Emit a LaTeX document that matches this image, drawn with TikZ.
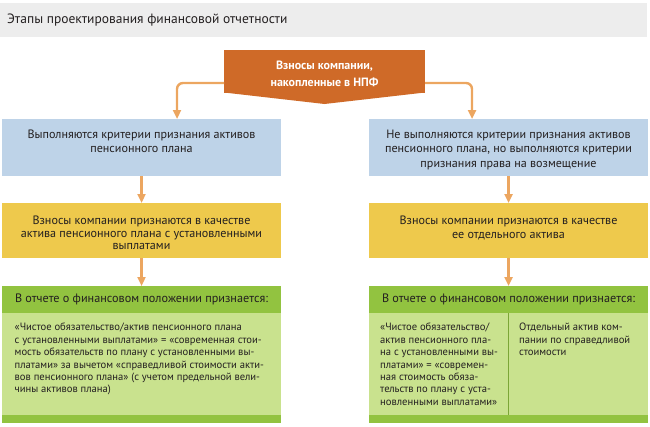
\documentclass[tikz,border=0pt]{standalone}
\usepackage{fontspec}
\setmainfont{PT Sans}
\usetikzlibrary{positioning,arrows.meta,calc}
\definecolor{bandgrey}{RGB}{237,237,237}
\definecolor{fundorange}{RGB}{207,106,40}
\definecolor{linkorange}{RGB}{236,166,96}
\definecolor{critblue}{RGB}{190,211,232}
\definecolor{assetyellow}{RGB}{238,201,76}
\definecolor{headgreen}{RGB}{146,195,64}
\definecolor{bodygreen}{RGB}{201,226,142}
\definecolor{darktext}{RGB}{35,31,32}

\begin{document}
\begin{tikzpicture}[x=1pt,y=-1pt]
		\tikzstyle{box} = [inner sep=0, outer sep=0, minimum width=279, text=darktext]
		\tikzstyle{critbox} = [box, fill=critblue, minimum height=57]
		\tikzstyle{assetbox} = [box, fill=assetyellow, minimum height=55]
		\tikzstyle{headbox} = [box, fill=headgreen, minimum height=27, font=\fontsize{12.2}{14}\selectfont]
		\tikzstyle{bodybox} = [box, fill=bodygreen, minimum height=102]
		\tikzstyle{footbox} = [box, fill=headgreen, minimum height=8]
		\tikzstyle{txt} = [inner sep=0, align=center, text=darktext, font=\fontsize{12.1}{14.5}\selectfont]
		\tikzstyle{bodytxt} = [inner sep=0, align=left, text=darktext, font=\fontsize{10.6}{12.4}\selectfont, anchor=north west]
		\tikzstyle{link} = [-{Triangle[width=8pt,length=9pt]}, line width=2.4pt, draw=linkorange, rounded corners=6pt]
		\useasboundingbox (0,0) rectangle (650,426);
		\fill[bandgrey] (0,3) rectangle (647,37);
		\node [anchor=west, inner sep=0, text=darktext, font=\fontsize{13.5}{15}\selectfont] (title) at (7,20) {Этапы проектирования финансовой отчетности};
		
		\node [fill=fundorange, inner sep=0, outer sep=0, minimum width=201, minimum height=43] (fund) at (324.5,71.5) {};
		\fill [fundorange] ([yshift=0.5pt]fund.south west) -- ([yshift=0.5pt]fund.south east) -- ($(fund.south)+(0,11)$) -- cycle;
		\node [inner sep=0, text=white, align=center, font=\bfseries\fontsize{12}{17.5}\selectfont] (fundt) at ($(fund)+(0,2.5)$) {Взносы компании,\\накопленные в НПФ};
		
		\node [critbox] (crit1) at (141.5,147.5) {};
		\node [critbox] (crit2) at (508.5,147.5) {};
		\node [assetbox] (asset1) at (141.5,230.5) {};
		\node [assetbox] (asset2) at (508.5,230.5) {};
		\node [headbox] (head1) at (141.5,299.5) {В отчете о финансовом положении признается:};
		\node [headbox] (head2) at (508.5,299.5) {В отчете о финансовом положении признается:};
		\node [bodybox, below=0pt of head1] (body1) {};
		\node [bodybox, below=0pt of head2] (body2) {};
		\node [footbox, below=0pt of body1] (foot1) {};
		\node [footbox, below=0pt of body2] (foot2) {};
		
		\node [txt, below=11pt of crit1.north, font=\fontsize{12.1}{14}\selectfont] (crit1t) {Выполняются критерии признания активов\\пенсионного плана};
		\node [txt, below=10.5pt of crit2.north] (crit2t) {Не выполняются критерии признания активов\\пенсионного плана, но выполняются критерии\\признания права на возмещение};
		\node [txt, below=13pt of asset1.north, font=\fontsize{12.1}{12.6}\selectfont] (asset1t) {Взносы компании признаются в качестве\\актива пенсионного плана с установленными\\выплатами};
		\node [txt, below=13pt of asset2.north, font=\fontsize{12.1}{13.5}\selectfont] (asset2t) {Взносы компании признаются в качестве\\ее отдельного актива};
		
		\draw [headgreen!85!black, line width=0.8pt] (body2.north) -- (body2.south);
		\node [bodytxt] (body1t) at ($(body1.north west)+(12.5,10)$) {«Чистое обязательство/актив пенсионного плана\\с установленными выплатами» = «современная стои-\\мость обязательств по плану с установленными вы-\\платами» за вычетом «справедливой стоимости акти-\\вов пенсионного плана» (с учетом предельной вели-\\чины активов плана)};
		\node [bodytxt] (body2t) at ($(body2.north west)+(11,10)$) {«Чистое обязательство/\\актив пенсионного пла-\\на с установленными вы-\\платами» = «современ-\\ная стоимость обяза-\\тельств по плану с уста-\\новленными выплатами»};
		\node [bodytxt] (body3t) at ($(body2.north)+(10.5,10)$) {Отдельный актив ком-\\пании по справедливой\\стоимости};
		
		\draw [link] ([yshift=-11.5pt]fund.west) -| ([xshift=35.5pt]crit1.north);
		\draw [link] ([yshift=-11.5pt]fund.east) -| ([xshift=-36.5pt]crit2.north);
		\draw [link] (crit1) -- (asset1);
		\draw [link] (crit2) -- (asset2);
		\draw [link] (asset1) -- (head1);
		\draw [link] (asset2) -- (head2);
		\end{tikzpicture}
\end{document}
